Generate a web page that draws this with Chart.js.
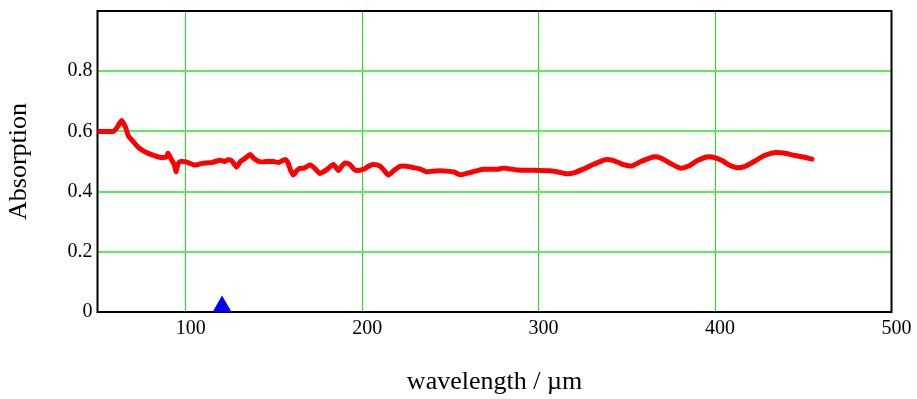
<!DOCTYPE html>
<html>
<head>
<meta charset="utf-8">
<script src="https://cdn.jsdelivr.net/npm/chart.js@4/dist/chart.umd.min.js"></script>
<style>
  html, body { margin: 0; padding: 0; background: #ffffff; }
  #wrap { width: 917px; height: 399px; }
</style>
</head>
<body>
<div id="wrap"><canvas id="c" width="917" height="399"></canvas></div>
<script>
// ---- data ----
const wavelength = [50, 55, 59, 61, 63.7, 66, 67.5, 70, 73, 76, 78.8, 82, 84.5, 87, 89.2, 90, 92, 93.5, 94.5, 95.5, 97, 99.6, 102, 105.3, 108, 111, 115, 119.4, 122, 124, 126, 128.9, 131, 134, 136.4, 139, 142, 146, 149.7, 153, 156.3, 158, 159.5, 161, 163, 164.8, 167, 170.5, 173, 176, 178, 180, 183.7, 186.5, 188.5, 190.3, 193, 196, 200.7, 203, 206, 210, 212.5, 214.9, 218, 221.5, 225, 229, 233, 236.6, 240, 244, 248, 252, 255.5, 259, 263, 268.7, 276.3, 280, 283, 287.6, 295, 306.5, 311, 316, 320, 325.4, 331, 337.7, 342, 348, 352.8, 358, 365, 369, 374, 380.2, 385, 390, 395.3, 399, 404, 408, 412.4, 417, 421.8, 428, 434.1, 439, 444.4, 450, 454.9];
const absorption = [0.600, 0.600, 0.600, 0.612, 0.636, 0.612, 0.585, 0.568, 0.548, 0.535, 0.527, 0.520, 0.515, 0.513, 0.515, 0.527, 0.505, 0.490, 0.466, 0.490, 0.500, 0.499, 0.495, 0.488, 0.492, 0.495, 0.497, 0.504, 0.500, 0.506, 0.503, 0.482, 0.500, 0.512, 0.523, 0.508, 0.499, 0.500, 0.500, 0.497, 0.507, 0.495, 0.470, 0.455, 0.470, 0.477, 0.478, 0.488, 0.478, 0.460, 0.466, 0.473, 0.490, 0.470, 0.485, 0.495, 0.490, 0.471, 0.474, 0.482, 0.490, 0.485, 0.470, 0.455, 0.470, 0.484, 0.484, 0.480, 0.475, 0.466, 0.468, 0.469, 0.468, 0.465, 0.456, 0.460, 0.466, 0.474, 0.474, 0.478, 0.476, 0.472, 0.471, 0.469, 0.465, 0.459, 0.462, 0.475, 0.490, 0.506, 0.504, 0.490, 0.485, 0.500, 0.515, 0.512, 0.496, 0.478, 0.485, 0.503, 0.515, 0.514, 0.503, 0.488, 0.479, 0.484, 0.499, 0.520, 0.530, 0.528, 0.521, 0.515, 0.508];
const markerX = [120.6];
const markerY = [0.018];
const xTicks = [100, 200, 300, 400, 500];
const yTicks = [0, 0.2, 0.4, 0.6, 0.8, 1];
const yHiddenLabels = [1];

const FONT = "'Liberation Serif', 'Times New Roman', serif";

const framePlugin = {
  id: 'frame',
  beforeDatasetsDraw(chart) {
    const a = chart.chartArea, ctx = chart.ctx;
    ctx.save();
    ctx.strokeStyle = '#000000';
    ctx.lineWidth = 2;
    ctx.strokeRect(a.left, a.top, a.right - a.left, a.bottom - a.top);
    ctx.restore();
  }
};

new Chart(document.getElementById('c'), {
  type: 'line',
  data: {
    datasets: [
      {
        data: wavelength.map((x, i) => ({ x: x, y: absorption[i] })),
        borderColor: '#ff0000',
        borderWidth: 5,
        pointRadius: 0,
        tension: 0.2,
        borderJoinStyle: 'round',
        borderCapStyle: 'round',
        fill: false
      },
      {
        type: 'scatter',
        data: markerX.map((x, i) => ({ x: x, y: markerY[i] })),
        pointStyle: 'triangle',
        pointRadius: 11,
        backgroundColor: '#0000ff',
        borderColor: '#0000ff',
        borderWidth: 0,
        showLine: false
      }
    ]
  },
  options: {
    responsive: false,
    animation: false,
    devicePixelRatio: 1,
    layout: { padding: { top: 10, right: 25.5, left: 0, bottom: 0 } },
    plugins: { legend: { display: false }, tooltip: { enabled: false } },
    scales: {
      x: {
        type: 'linear',
        min: 50,
        max: 500,
        afterBuildTicks(scale) { scale.ticks = xTicks.map(v => ({ value: v })); },
        afterFit(scale) { scale.height = 87; scale.paddingLeft = 0; scale.paddingRight = 0; },
        grid: { color: 'rgb(30,222,30)', lineWidth: 1, drawTicks: false },
        border: { display: false },
        ticks: {
          color: '#000000',
          font: { family: FONT, size: 20 },
          padding: 5,
          labelOffset: 5,
          maxRotation: 0,
          autoSkip: false
        },
        title: {
          display: true,
          text: 'wavelength / µm',
          color: '#000000',
          font: { family: FONT, size: 26 },
          padding: { top: 0, bottom: 1 }
        }
      },
      y: {
        type: 'linear',
        min: 0,
        max: 1,
        afterBuildTicks(scale) { scale.ticks = yTicks.map(v => ({ value: v })); },
        afterFit(scale) { scale.width = 97.5; scale.paddingTop = 0; scale.paddingBottom = 0; },
        grid: { color: 'rgb(90,238,90)', lineWidth: 2, drawTicks: false },
        border: { display: false },
        ticks: {
          color: '#000000',
          font: { family: FONT, size: 20 },
          padding: 5,
          autoSkip: false,
          callback: (v) => yHiddenLabels.includes(v) ? '' : String(Math.round(v * 10) / 10)
        },
        title: {
          display: true,
          text: 'Absorption',
          color: '#000000',
          font: { family: FONT, size: 26 },
          padding: { top: 4, bottom: 0 }
        }
      }
    }
  },
  plugins: [framePlugin]
});
</script>
</body>
</html>
